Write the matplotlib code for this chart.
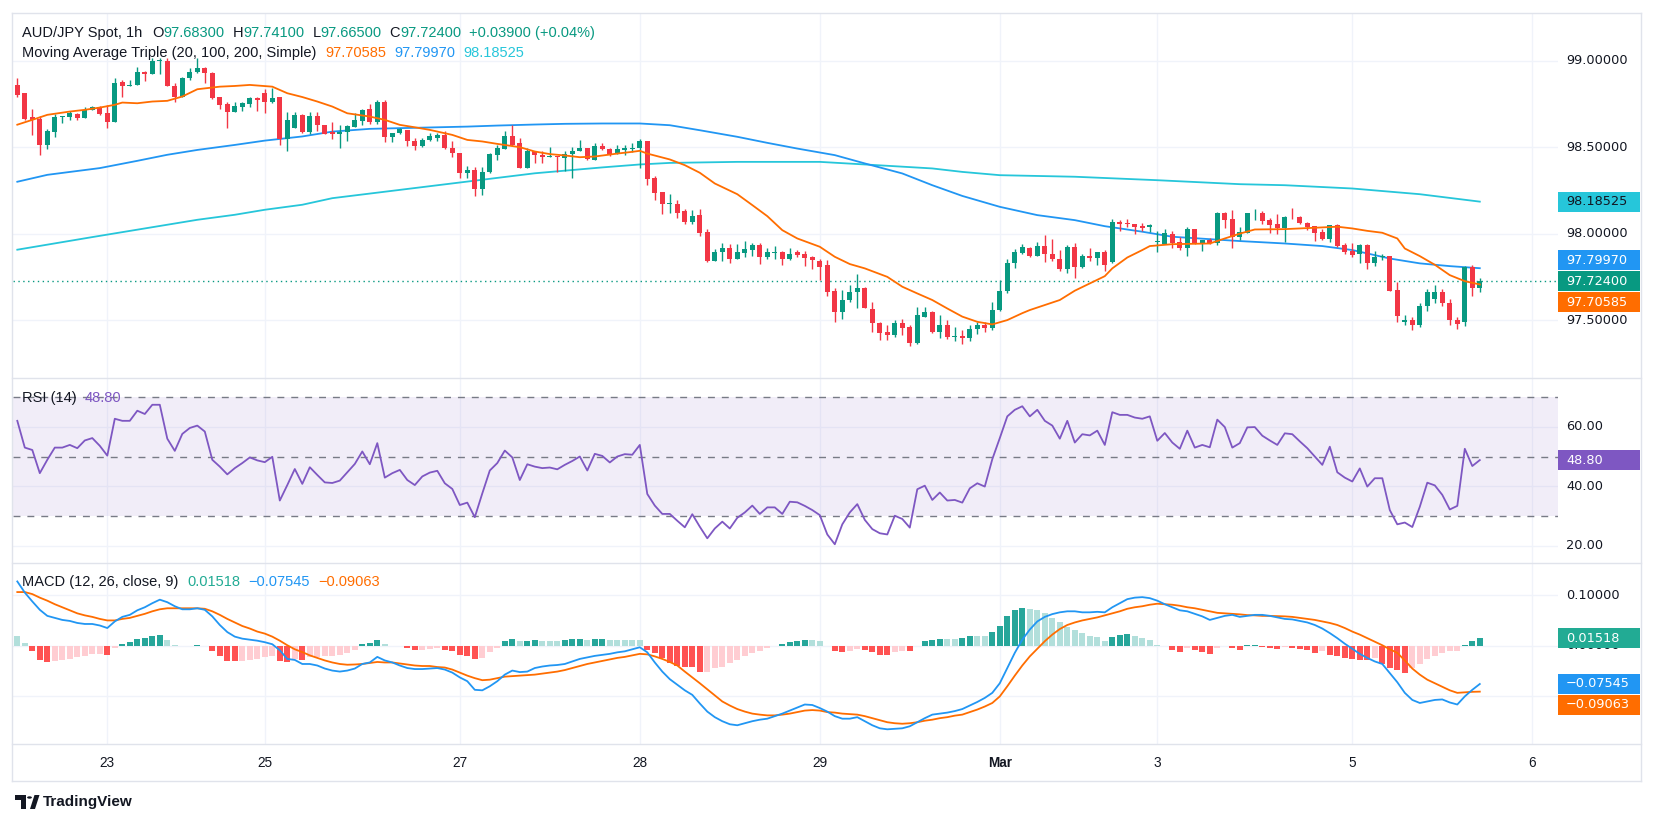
import matplotlib
matplotlib.use("Agg")
import matplotlib.pyplot as plt
from matplotlib.patches import Rectangle, Polygon, Circle
from matplotlib.lines import Line2D
import numpy as np

plt.rcParams['font.family'] = ['Liberation Sans', 'DejaVu Sans']

# ---------------- data ----------------
opens = [
98.860, 98.812, 98.673, 98.664, 98.513, 98.590, 98.673, 98.673, 98.692, 98.671,
98.715, 98.731, 98.696, 98.648, 98.875, 98.856, 98.860, 98.935, 98.922, 98.999,
98.999, 98.856, 98.793, 98.899, 98.933, 98.956, 98.927, 98.789, 98.748, 98.706,
98.735, 98.748, 98.783, 98.812, 98.764, 98.789, 98.546, 98.610, 98.686, 98.590,
98.681, 98.629, 98.590, 98.575, 98.585, 98.619, 98.654, 98.721, 98.644, 98.764,
98.556, 98.581, 98.600, 98.536, 98.504, 98.542, 98.552, 98.569, 98.498, 98.467,
98.353, 98.369, 98.257, 98.357, 98.452, 98.490, 98.567, 98.523, 98.382, 98.475,
98.456, 98.446, 98.450, 98.440, 98.459, 98.475, 98.494, 98.427, 98.508, 98.492,
98.463, 98.483, 98.492, 98.496, 98.535, 98.319, 98.238, 98.174, 98.174, 98.130,
98.068, 98.107, 98.007, 97.843, 97.891, 97.918, 97.851, 97.889, 97.908, 97.934,
97.866, 97.889, 97.895, 97.851, 97.895, 97.885, 97.866, 97.841, 97.818, 97.668,
97.548, 97.616, 97.660, 97.687, 97.564, 97.481, 97.431, 97.413, 97.481, 97.461,
97.370, 97.519, 97.546, 97.433, 97.471, 97.404, 97.408, 97.395, 97.450, 97.470,
97.455, 97.558, 97.670, 97.828, 97.889, 97.914, 97.872, 97.928, 97.880, 97.856,
97.795, 97.920, 97.808, 97.870, 97.860, 97.891, 97.837, 98.065, 98.059, 98.055,
98.043, 98.036, 97.951, 97.939, 97.997, 97.953, 97.918, 98.024, 97.943, 97.962,
97.947, 98.117, 98.084, 97.982, 98.005, 98.117, 98.120, 98.078, 98.055, 98.030,
98.093, 98.097, 98.063, 98.043, 98.009, 97.968, 98.049, 97.934, 97.899, 97.880,
97.934, 97.828, 97.866, 97.870, 97.673, 97.490, 97.500, 97.470, 97.580, 97.620,
97.660, 97.600, 97.500, 97.487, 97.806, 97.683]

highs = [
98.899, 98.816, 98.721, 98.681, 98.604, 98.692, 98.681, 98.709, 98.696, 98.735,
98.739, 98.739, 98.744, 98.899, 98.889, 98.889, 98.966, 98.941, 99.014, 99.014,
99.014, 98.870, 98.908, 98.956, 99.014, 98.966, 98.933, 98.793, 98.760, 98.760,
98.764, 98.789, 98.789, 98.835, 98.845, 98.793, 98.706, 98.706, 98.692, 98.706,
98.706, 98.629, 98.648, 98.629, 98.629, 98.700, 98.721, 98.748, 98.770, 98.773,
98.581, 98.610, 98.600, 98.552, 98.552, 98.581, 98.581, 98.594, 98.536, 98.467,
98.394, 98.388, 98.384, 98.465, 98.513, 98.594, 98.629, 98.552, 98.494, 98.479,
98.479, 98.500, 98.450, 98.475, 98.500, 98.542, 98.494, 98.527, 98.523, 98.498,
98.512, 98.512, 98.527, 98.550, 98.535, 98.332, 98.238, 98.228, 98.194, 98.145,
98.136, 98.140, 98.026, 97.910, 97.947, 97.939, 97.939, 97.957, 97.947, 97.943,
97.914, 97.928, 97.899, 97.914, 97.908, 97.899, 97.870, 97.851, 97.847, 97.687,
97.673, 97.702, 97.766, 97.693, 97.606, 97.490, 97.471, 97.500, 97.504, 97.470,
97.573, 97.573, 97.554, 97.529, 97.500, 97.461, 97.440, 97.470, 97.490, 97.490,
97.606, 97.731, 97.851, 97.910, 97.939, 97.924, 97.953, 97.991, 97.968, 97.905,
97.934, 97.947, 97.880, 97.914, 97.891, 97.905, 98.084, 98.078, 98.082, 98.055,
98.059, 98.055, 98.014, 98.024, 98.014, 97.982, 98.040, 98.024, 97.962, 97.972,
98.126, 98.126, 98.136, 98.040, 98.120, 98.142, 98.130, 98.093, 98.113, 98.103,
98.149, 98.101, 98.068, 98.043, 98.024, 98.049, 98.055, 97.947, 97.947, 97.939,
97.939, 97.899, 97.885, 97.870, 97.722, 97.530, 97.520, 97.600, 97.680, 97.700,
97.680, 97.620, 97.520, 97.810, 97.820, 97.741]

lows = [
98.793, 98.658, 98.571, 98.455, 98.488, 98.556, 98.639, 98.658, 98.658, 98.667,
98.715, 98.686, 98.613, 98.648, 98.789, 98.856, 98.860, 98.885, 98.922, 98.922,
98.856, 98.764, 98.793, 98.889, 98.927, 98.870, 98.777, 98.721, 98.613, 98.706,
98.712, 98.735, 98.712, 98.696, 98.754, 98.513, 98.475, 98.610, 98.584, 98.577,
98.596, 98.575, 98.548, 98.498, 98.538, 98.619, 98.629, 98.635, 98.635, 98.529,
98.529, 98.577, 98.504, 98.485, 98.500, 98.538, 98.538, 98.490, 98.442, 98.324,
98.320, 98.215, 98.221, 98.353, 98.427, 98.490, 98.504, 98.382, 98.382, 98.411,
98.411, 98.446, 98.359, 98.365, 98.320, 98.475, 98.423, 98.423, 98.485, 98.450,
98.460, 98.454, 98.473, 98.381, 98.280, 98.194, 98.113, 98.120, 98.093, 98.053,
98.055, 97.986, 97.837, 97.843, 97.843, 97.831, 97.851, 97.866, 97.870, 97.824,
97.851, 97.851, 97.818, 97.847, 97.862, 97.812, 97.793, 97.731, 97.639, 97.490,
97.506, 97.606, 97.567, 97.567, 97.433, 97.384, 97.384, 97.404, 97.413, 97.350,
97.360, 97.515, 97.423, 97.394, 97.388, 97.380, 97.360, 97.380, 97.420, 97.430,
97.440, 97.550, 97.658, 97.799, 97.885, 97.862, 97.872, 97.837, 97.843, 97.785,
97.774, 97.745, 97.804, 97.843, 97.818, 97.785, 97.831, 98.014, 98.040, 97.995,
98.016, 98.007, 97.895, 97.939, 97.918, 97.905, 97.872, 97.939, 97.901, 97.939,
97.934, 98.030, 97.918, 97.966, 98.005, 98.078, 98.055, 98.005, 97.997, 97.953,
98.084, 98.053, 98.020, 97.957, 97.962, 97.953, 97.924, 97.880, 97.866, 97.831,
97.793, 97.814, 97.847, 97.670, 97.490, 97.470, 97.440, 97.460, 97.550, 97.600,
97.580, 97.470, 97.450, 97.465, 97.642, 97.665]

closes = [
98.802, 98.664, 98.658, 98.513, 98.596, 98.673, 98.677, 98.696, 98.671, 98.715,
98.735, 98.692, 98.648, 98.870, 98.856, 98.860, 98.933, 98.922, 98.999, 99.000,
98.856, 98.793, 98.899, 98.933, 98.956, 98.927, 98.783, 98.745, 98.706, 98.739,
98.754, 98.783, 98.770, 98.764, 98.783, 98.546, 98.658, 98.686, 98.590, 98.681,
98.629, 98.577, 98.577, 98.590, 98.623, 98.658, 98.716, 98.644, 98.764, 98.556,
98.581, 98.604, 98.533, 98.504, 98.542, 98.562, 98.569, 98.498, 98.465, 98.353,
98.369, 98.257, 98.357, 98.461, 98.498, 98.567, 98.513, 98.382, 98.475, 98.452,
98.446, 98.450, 98.446, 98.459, 98.479, 98.498, 98.432, 98.508, 98.490, 98.458,
98.487, 98.498, 98.494, 98.535, 98.315, 98.236, 98.171, 98.178, 98.120, 98.068,
98.103, 98.005, 97.841, 97.891, 97.918, 97.853, 97.891, 97.910, 97.934, 97.866,
97.891, 97.891, 97.851, 97.885, 97.876, 97.860, 97.847, 97.808, 97.664, 97.548,
97.616, 97.664, 97.687, 97.567, 97.481, 97.427, 97.413, 97.481, 97.456, 97.370,
97.529, 97.546, 97.433, 97.471, 97.404, 97.408, 97.395, 97.450, 97.470, 97.455,
97.560, 97.670, 97.828, 97.895, 97.920, 97.872, 97.928, 97.880, 97.853, 97.793,
97.920, 97.808, 97.870, 97.860, 97.891, 97.818, 98.065, 98.053, 98.053, 98.040,
98.034, 98.051, 97.953, 98.001, 97.947, 97.918, 98.024, 97.943, 97.962, 97.947,
98.120, 98.078, 97.982, 98.009, 98.117, 98.120, 98.072, 98.049, 98.034, 98.097,
98.088, 98.063, 98.040, 98.005, 97.968, 98.049, 97.928, 97.895, 97.876, 97.934,
97.828, 97.866, 97.870, 97.670, 97.525, 97.500, 97.470, 97.580, 97.660, 97.660,
97.600, 97.500, 97.480, 97.806, 97.683, 97.724]

# moving averages (sampled where read)
sma20_idx = [0, 2, 4, 7, 9, 11, 13, 14, 16, 18, 20, 22, 24, 27, 29, 31, 34, 36, 38, 40,
             42, 44, 47, 49, 51, 53, 55, 58, 60, 62, 64, 67, 69, 71, 73, 75, 77, 80, 82, 83,
             84, 87, 89, 91, 93, 96, 98, 100, 102, 104, 107, 109, 111, 113, 116, 118, 120, 122, 124, 126,
             128, 130, 132, 134, 135, 139, 141, 143, 145, 146, 148, 150, 151, 154, 159, 161, 163, 165, 169, 174,
             176, 178, 180, 182, 184, 185, 187, 189, 191, 193, 195]
sma20_val = [98.630, 98.658, 98.687, 98.706, 98.716, 98.729, 98.745, 98.758, 98.754, 98.764,
             98.768, 98.793, 98.835, 98.850, 98.854, 98.860, 98.850, 98.812, 98.790, 98.764,
             98.735, 98.696, 98.677, 98.658, 98.629, 98.615, 98.600, 98.571, 98.542, 98.533,
             98.519, 98.500, 98.475, 98.460, 98.452, 98.442, 98.446, 98.463, 98.473, 98.479,
             98.463, 98.429, 98.396, 98.352, 98.290, 98.228, 98.165, 98.101, 98.020, 97.972,
             97.924, 97.866, 97.824, 97.799, 97.750, 97.693, 97.654, 97.616, 97.567, 97.520,
             97.490, 97.475, 97.500, 97.540, 97.558, 97.616, 97.670, 97.712, 97.754, 97.799,
             97.862, 97.905, 97.928, 97.939, 97.943, 97.972, 98.000, 98.024, 98.026, 98.036,
             98.040, 98.030, 98.016, 98.005, 97.972, 97.914, 97.870, 97.820, 97.760, 97.725,
             97.706]
sma100_idx = [0, 4, 11, 16, 20, 24, 29, 33, 38, 42, 47, 51, 56, 60, 64, 69, 73, 78, 83, 87,
              91, 96, 100, 104, 109, 113, 118, 122, 126, 131, 136, 141, 145, 150, 154, 159, 163, 169, 174, 178,
              183, 187, 191, 195]
sma100_val = [98.300, 98.340, 98.379, 98.421, 98.456, 98.484, 98.513, 98.538, 98.562, 98.590,
              98.606, 98.610, 98.615, 98.619, 98.625, 98.631, 98.635, 98.637, 98.637, 98.627,
              98.598, 98.560, 98.525, 98.492, 98.454, 98.406, 98.348, 98.280, 98.218, 98.155,
              98.107, 98.078, 98.043, 98.011, 97.982, 97.968, 97.957, 97.943, 97.928, 97.905,
              97.856, 97.828, 97.812, 97.800]
sma200_idx = [0, 10, 24, 29, 33, 38, 42, 51, 60, 69, 78, 83, 87, 96, 107, 113, 122, 126, 131, 141,
              152, 163, 169, 178, 187, 195]
sma200_val = [97.907, 97.980, 98.080, 98.109, 98.138, 98.167, 98.205, 98.253, 98.301, 98.349,
              98.383, 98.400, 98.409, 98.415, 98.415, 98.400, 98.377, 98.357, 98.338, 98.329,
              98.309, 98.286, 98.280, 98.261, 98.228, 98.185]

rsi = [
62.0, 53.0, 52.2, 44.4, 48.9, 53.0, 53.0, 53.9, 52.8, 55.4,
56.2, 53.6, 50.3, 62.7, 62.0, 62.0, 65.4, 64.3, 67.4, 67.4,
56.0, 51.9, 57.6, 59.6, 60.4, 58.4, 48.9, 46.6, 44.0, 46.1,
47.8, 49.7, 48.7, 48.1, 49.9, 35.2, 40.4, 45.8, 40.8, 46.4,
43.8, 41.3, 41.1, 41.9, 44.7, 47.5, 51.7, 47.4, 54.5, 42.9,
44.4, 45.5, 42.1, 40.4, 43.3, 44.6, 45.2, 41.0, 39.1, 33.7,
34.5, 29.6, 37.6, 45.3, 47.8, 52.0, 49.7, 42.1, 47.4, 46.6,
46.1, 46.3, 45.7, 47.2, 48.5, 50.0, 45.3, 50.9, 50.2, 48.0,
50.0, 50.8, 50.6, 53.9, 37.4, 33.5, 30.7, 30.7, 28.4, 26.2,
30.6, 26.4, 22.5, 25.8, 28.1, 25.8, 29.4, 31.2, 33.5, 30.7,
32.9, 32.9, 30.7, 34.8, 34.6, 33.4, 32.0, 30.3, 23.8, 20.5,
27.2, 31.2, 34.0, 28.7, 25.6, 24.2, 23.8, 30.1, 29.0, 26.1,
39.0, 40.2, 35.4, 37.9, 35.2, 35.4, 34.5, 39.3, 41.0, 39.9,
49.1, 56.2, 63.5, 65.7, 66.9, 63.5, 65.7, 62.0, 60.4, 56.0,
62.0, 54.7, 57.5, 57.1, 58.7, 53.9, 64.9, 64.0, 64.0, 63.1,
62.7, 63.5, 55.3, 57.9, 54.7, 52.6, 58.7, 53.0, 53.9, 53.1,
62.4, 59.9, 53.0, 54.5, 59.8, 59.9, 57.0, 55.4, 53.9, 57.8,
57.5, 55.1, 52.8, 50.0, 47.2, 53.3, 44.7, 42.9, 41.6, 46.0,
39.9, 42.7, 42.7, 32.0, 27.2, 27.8, 26.3, 33.1, 41.2, 40.3,
37.1, 32.2, 33.4, 52.6, 46.8, 48.8]

macd = [
0.127, 0.105, 0.0875, 0.071, 0.059, 0.055, 0.051, 0.049, 0.045, 0.043,
0.043, 0.040, 0.035, 0.048, 0.057, 0.061, 0.070, 0.076, 0.084, 0.091,
0.086, 0.078, 0.072, 0.072, 0.074, 0.071, 0.058, 0.041, 0.027, 0.018,
0.014, 0.012, 0.010, 0.007, 0.003, -0.009, -0.026, -0.028, -0.036, -0.036,
-0.039, -0.045, -0.049, -0.051, -0.049, -0.045, -0.036, -0.033, -0.022, -0.029,
-0.033, -0.039, -0.044, -0.046, -0.046, -0.045, -0.044, -0.047, -0.053, -0.0625,
-0.070, -0.087, -0.088, -0.080, -0.070, -0.057, -0.049, -0.052, -0.051, -0.044,
-0.041, -0.039, -0.038, -0.036, -0.031, -0.026, -0.023, -0.020, -0.018, -0.016,
-0.013, -0.011, -0.007, -0.003, -0.013, -0.033, -0.051, -0.066, -0.077, -0.088,
-0.097, -0.114, -0.130, -0.141, -0.149, -0.155, -0.157, -0.153, -0.149, -0.146,
-0.144, -0.139, -0.134, -0.128, -0.122, -0.116, -0.117, -0.123, -0.130, -0.139,
-0.144, -0.144, -0.141, -0.149, -0.157, -0.163, -0.165, -0.164, -0.163, -0.159,
-0.151, -0.143, -0.136, -0.134, -0.132, -0.129, -0.125, -0.118, -0.111, -0.103,
-0.093, -0.074, -0.044, -0.014, 0.012, 0.032, 0.048, 0.057, 0.0625, 0.066,
0.068, 0.068, 0.066, 0.066, 0.067, 0.066, 0.076, 0.084, 0.092, 0.095,
0.096, 0.094, 0.089, 0.082, 0.076, 0.070, 0.068, 0.063, 0.058, 0.051,
0.055, 0.059, 0.061, 0.057, 0.059, 0.061, 0.061, 0.059, 0.056, 0.053,
0.052, 0.049, 0.046, 0.041, 0.034, 0.025, 0.015, 0.004, -0.006, -0.016,
-0.024, -0.031, -0.036, -0.054, -0.072, -0.093, -0.107, -0.113, -0.110, -0.107,
-0.106, -0.112, -0.116, -0.100, -0.087, -0.0755]

signal = [
0.106, 0.106, 0.102, 0.095, 0.089, 0.082, 0.076, 0.070, 0.064, 0.060,
0.057, 0.053, 0.050, 0.050, 0.053, 0.055, 0.059, 0.063, 0.068, 0.072,
0.074, 0.074, 0.074, 0.074, 0.074, 0.073, 0.068, 0.061, 0.053, 0.046,
0.039, 0.034, 0.028, 0.024, 0.018, 0.010, 0.001, -0.007, -0.0125, -0.019,
-0.024, -0.029, -0.033, -0.036, -0.0375, -0.037, -0.036, -0.034, -0.032, -0.033,
-0.033, -0.035, -0.037, -0.039, -0.040, -0.040, -0.042, -0.043, -0.047, -0.053,
-0.059, -0.064, -0.068, -0.067, -0.064, -0.061, -0.060, -0.059, -0.058, -0.057,
-0.055, -0.053, -0.051, -0.048, -0.044, -0.040, -0.036, -0.033, -0.030, -0.027,
-0.024, -0.022, -0.019, -0.016, -0.017, -0.021, -0.026, -0.032, -0.039, -0.051,
-0.0625, -0.074, -0.086, -0.098, -0.110, -0.118, -0.125, -0.130, -0.134, -0.136,
-0.1375, -0.1375, -0.136, -0.134, -0.131, -0.128, -0.127, -0.128, -0.131, -0.132,
-0.134, -0.135, -0.136, -0.139, -0.143, -0.147, -0.151, -0.153, -0.154, -0.153,
-0.151, -0.148, -0.146, -0.143, -0.141, -0.138, -0.136, -0.131, -0.126, -0.120,
-0.113, -0.100, -0.080, -0.059, -0.039, -0.021, -0.006, 0.009, 0.022, 0.033,
0.041, 0.046, 0.050, 0.053, 0.056, 0.060, 0.064, 0.068, 0.073, 0.076,
0.078, 0.081, 0.083, 0.082, 0.081, 0.079, 0.076, 0.074, 0.071, 0.068,
0.065, 0.064, 0.063, 0.062, 0.0605, 0.060, 0.059, 0.059, 0.0585, 0.058,
0.057, 0.055, 0.053, 0.051, 0.048, 0.045, 0.041, 0.035, 0.028, 0.022,
0.015, 0.008, 0.001, -0.007, -0.014, -0.029, -0.045, -0.057, -0.067, -0.074,
-0.081, -0.088, -0.093, -0.092, -0.091, -0.0906]

hist = [
0.020, 0.005, -0.010, -0.028, -0.033, -0.031, -0.029, -0.026, -0.022, -0.020,
-0.016, -0.016, -0.018, -0.005, 0.004, 0.008, 0.014, 0.016, 0.020, 0.022,
0.012, 0.001, -0.001, -0.001, 0.002, -0.001, -0.011, -0.021, -0.030, -0.031,
-0.031, -0.028, -0.026, -0.023, -0.020, -0.031, -0.033, -0.026, -0.029, -0.023,
-0.022, -0.021, -0.020, -0.018, -0.014, -0.008, 0.003, 0.005, 0.012, 0.004,
-0.001, -0.001, -0.005, -0.009, -0.008, -0.007, -0.005, -0.008, -0.010, -0.018,
-0.021, -0.026, -0.024, -0.013, -0.005, 0.010, 0.013, 0.009, 0.010, 0.012,
0.010, 0.010, 0.010, 0.012, 0.013, 0.014, 0.012, 0.013, 0.014, 0.012,
0.012, 0.012, 0.012, 0.012, -0.008, -0.014, -0.024, -0.034, -0.039, -0.041,
-0.042, -0.051, -0.051, -0.044, -0.041, -0.034, -0.029, -0.021, -0.014, -0.010,
-0.005, -0.001, 0.003, 0.007, 0.009, 0.012, 0.012, 0.009, 0.000, -0.011,
-0.013, -0.010, -0.007, -0.008, -0.013, -0.018, -0.019, -0.013, -0.010, -0.011,
0.000, 0.009, 0.012, 0.013, 0.013, 0.013, 0.015, 0.020, 0.020, 0.020,
0.027, 0.039, 0.058, 0.070, 0.074, 0.072, 0.071, 0.064, 0.055, 0.046,
0.037, 0.032, 0.025, 0.020, 0.018, 0.009, 0.018, 0.022, 0.023, 0.020,
0.015, 0.012, 0.002, 0.000, -0.008, -0.0125, -0.005, -0.008, -0.0125, -0.016,
-0.005, -0.001, -0.005, -0.008, 0.001, 0.002, -0.003, -0.005, -0.006, -0.003,
-0.005, -0.007, -0.009, -0.014, -0.010, -0.018, -0.020, -0.024, -0.026, -0.028,
-0.029, -0.024, -0.036, -0.044, -0.047, -0.053, -0.044, -0.036, -0.026, -0.021,
-0.014, -0.011, -0.011, 0.002, 0.009, 0.0152]

day_bars = [12, 33, 59, 83, 107, 131, 152, 178, 202]
day_labels = ['23', '25', '27', '28', '29', 'Mar', '3', '5', '6']
price_ticks = [97.5, 98.0, 98.5, 99.0]
rsi_ticks = [20, 40, 60]
macd_ticks = [0.1, 0.0, -0.1]
macd_tick_labels = [0.1, 0.0]          # -0.1 label is hidden behind the value boxes

last_close = 97.724
ma_last = {'20': 97.70585, '100': 97.79970, '200': 98.18525}
rsi_last = 48.80
macd_last = {'hist': 0.01518, 'macd': -0.07545, 'signal': -0.09063}

# ---------------- styling ----------------
GREEN = '#089981'
RED = '#F23645'
ORANGE = '#FF6D00'
BLUE = '#2196F3'
CYAN = '#26C6DA'
PURPLE = '#7E57C2'
TEXT = '#131722'
GRID = '#F0F3FA'
SEP = '#E0E3EB'
SCALE_FONT = ['DejaVu Sans']
SCALE_FS = 9.3
LEG_FS = 10.5

W, H = 1653, 825
fig = plt.figure(figsize=(W / 100, H / 100), dpi=100)
fig.patch.set_facecolor('white')

PX_L, PX_R = 13, 1558
BAR0, BARW = 17.3, 7.5
XLIM = ((PX_L - BAR0) / BARW, (PX_R - BAR0) / BARW)


def pane(top, bottom, ylim):
    ax = fig.add_axes([PX_L / W, 1 - bottom / H, (PX_R - PX_L) / W, (bottom - top) / H])
    ax.set_axis_off()
    ax.set_xlim(*XLIM)
    ax.set_ylim(*ylim)
    for b in day_bars:
        ax.axvline(b, color=GRID, lw=1, zorder=0)
    return ax


ax_p = pane(13, 378, (97.165, 99.276))
ax_r = pane(378, 563, (14.2, 76.4))
ax_m = pane(563, 744, (-0.194, 0.1634))

N = len(closes)
x = np.arange(N)
O = np.array(opens); Hh = np.array(highs); L = np.array(lows); C = np.array(closes)

# ---- price pane
for t in price_ticks:
    ax_p.axhline(t, color=GRID, lw=1, zorder=0)
ccol = [GREEN if c >= o else RED for o, c in zip(O, C)]
ax_p.vlines(x, L, Hh, colors=ccol, lw=1.0, zorder=3)
body_b = np.minimum(O, C)
body_h = np.maximum(np.abs(C - O), 0.005)
ax_p.bar(x, body_h, bottom=body_b, width=0.68, color=ccol, linewidth=0, zorder=4)
ax_p.plot(sma200_idx, sma200_val, color=CYAN, lw=1.3, zorder=2)
ax_p.plot(sma100_idx, sma100_val, color=BLUE, lw=1.3, zorder=2)
ax_p.plot(sma20_idx, sma20_val, color=ORANGE, lw=1.3, zorder=5)
ax_p.axhline(last_close, color=GREEN, lw=1, ls=(0, (1, 2.5)), zorder=1)

# ---- RSI pane
for t in rsi_ticks:
    ax_r.axhline(t, color=GRID, lw=1, zorder=0)
ax_r.axhspan(30, 70, color=PURPLE, alpha=0.1, lw=0, zorder=1)
for lv in (70, 50, 30):
    ax_r.axhline(lv, color='#787B86', lw=1, ls=(0, (5, 5)), zorder=2)
ax_r.plot(x, rsi, color=PURPLE, lw=1.3, zorder=3)

# ---- MACD pane
for t in macd_ticks:
    ax_m.axhline(t, color=GRID, lw=1, zorder=0)
hcol = []
for i, v in enumerate(hist):
    pv = hist[i - 1] if i > 0 else v
    if v >= 0:
        hcol.append('#26A69A' if v > pv else '#B2DFDB')
    else:
        hcol.append('#FF5252' if v < pv else '#FFCDD2')
ax_m.bar(x, hist, width=0.75, color=hcol, linewidth=0, zorder=2)
ax_m.plot(x, signal, color=ORANGE, lw=1.3, zorder=3)
ax_m.plot(x, macd, color=BLUE, lw=1.3, zorder=4)


# ---------------- frame / separators ----------------
def hline_px(y, x0=12, x1=1641, color=SEP):
    fig.add_artist(Line2D([x0 / W, x1 / W], [1 - y / H, 1 - y / H], color=color, lw=1,
                          transform=fig.transFigure))


def vline_px(xp, y0, y1, color=SEP):
    fig.add_artist(Line2D([xp / W, xp / W], [1 - y0 / H, 1 - y1 / H], color=color, lw=1,
                          transform=fig.transFigure))


hline_px(12.5)
hline_px(378)
hline_px(563)
hline_px(744)
hline_px(781)
vline_px(12, 12.5, 781)
vline_px(1641, 12.5, 781)


# ---------------- right scale labels ----------------
def ypix(ax, v):
    return ax.transData.transform((0, v))[1]   # display px from bottom


def scale_label(ax, v, s):
    fig.text(1566 / W, ypix(ax, v) / H, s, color=TEXT, fontsize=SCALE_FS, va='center', ha='left',
             family=SCALE_FONT)


for t in price_ticks:
    scale_label(ax_p, t, f'{t:.5f}')
for t in rsi_ticks:
    scale_label(ax_r, t, f'{t:.2f}')
for t in macd_tick_labels:
    scale_label(ax_m, t, f'{t:.5f}')


def value_box(yd, s, bg, fg='white'):
    fig.add_artist(Rectangle((PX_R / W, (yd - 10) / H), 82 / W, 20 / H, transform=fig.transFigure,
                             facecolor=bg, edgecolor='none', zorder=5))
    fig.text(1566 / W, yd / H, s, color=fg, fontsize=SCALE_FS, va='center', ha='left', zorder=6,
             family=SCALE_FONT)


# price pane boxes (stacked to avoid overlap, as the reference does)
y_close = ypix(ax_p, last_close)
y_ma100 = max(ypix(ax_p, ma_last['100']), y_close + 21)
y_ma20 = min(ypix(ax_p, ma_last['20']), y_close - 21)
value_box(ypix(ax_p, ma_last['200']), f"{ma_last['200']:.5f}", CYAN, TEXT)
value_box(y_ma100, f"{ma_last['100']:.5f}", BLUE)
value_box(y_close, f"{last_close:.5f}", GREEN)
value_box(y_ma20, f"{ma_last['20']:.5f}", ORANGE)
value_box(ypix(ax_r, rsi_last), f"{rsi_last:.2f}", PURPLE)
y_h = ypix(ax_m, macd_last['hist'])
y_mc = ypix(ax_m, macd_last['macd'])
y_sg = min(ypix(ax_m, macd_last['signal']), y_mc - 21)
value_box(y_h, f"{macd_last['hist']:.5f}", '#22AB94')
value_box(y_mc, f"{macd_last['macd']:.5f}".replace('-', '\u2212'), BLUE)
value_box(y_sg, f"{macd_last['signal']:.5f}".replace('-', '\u2212'), ORANGE)

# ---------------- time axis ----------------
for b, s in zip(day_bars, day_labels):
    xp = BAR0 + BARW * b
    fig.text(xp / W, 1 - 763 / H, s, color=TEXT, fontsize=9.8, ha='center', va='center',
             fontweight='bold' if s == 'Mar' else 'normal')

# ---------------- legends ----------------
renderer = fig.canvas.get_renderer()


def text_seq(x0, y0, parts, fs=LEG_FS):
    xp = x0
    for s, col, gap in parts:
        t = fig.text(xp / W, 1 - y0 / H, s, color=col, fontsize=fs, va='center', ha='left')
        bb = t.get_window_extent(renderer=renderer)
        xp += bb.width + gap


text_seq(22, 33, [('AUD/JPY Spot, 1h', TEXT, 10),
                  ('O', TEXT, 0), ('97.68300', GREEN, 8),
                  ('H', TEXT, 0), ('97.74100', GREEN, 8),
                  ('L', TEXT, 0), ('97.66500', GREEN, 8),
                  ('C', TEXT, 0), ('97.72400', GREEN, 8),
                  ('+0.03900 (+0.04%)', GREEN, 0)])
text_seq(22, 53, [('Moving Average Triple (20, 100, 200, Simple)', TEXT, 9),
                  ('97.70585', ORANGE, 8), ('97.79970', BLUE, 8), ('98.18525', CYAN, 0)])
text_seq(22, 398, [('RSI (14)', TEXT, 8), ('48.80', PURPLE, 0)])
text_seq(22, 582, [('MACD (12, 26, close, 9)', TEXT, 9), ('0.01518', '#22AB94', 8),
                   ('\u22120.07545', BLUE, 8), ('\u22120.09063', ORANGE, 0)])


# ---------------- TradingView mark ----------------
def px_poly(pts, **kw):
    fig.add_artist(Polygon([(a / W, 1 - b / H) for a, b in pts], closed=True,
                           transform=fig.transFigure, **kw))


px_poly([(15, 795), (26, 795), (26, 809), (21, 809), (21, 800), (15, 800)], facecolor=TEXT, edgecolor='none')
fig.add_artist(Circle((29.5 / W, 1 - 797.5 / H), 2.4 / W, transform=fig.transFigure, facecolor=TEXT,
                      edgecolor='none'))
px_poly([(30, 809), (34.5, 795), (39.5, 795), (35, 809)], facecolor=TEXT, edgecolor='none')
fig.text(43 / W, 1 - 802 / H, 'TradingView', color=TEXT, fontsize=11, fontweight='bold',
         va='center', ha='left')

fig.savefig('out.png', dpi=100, facecolor='white')
